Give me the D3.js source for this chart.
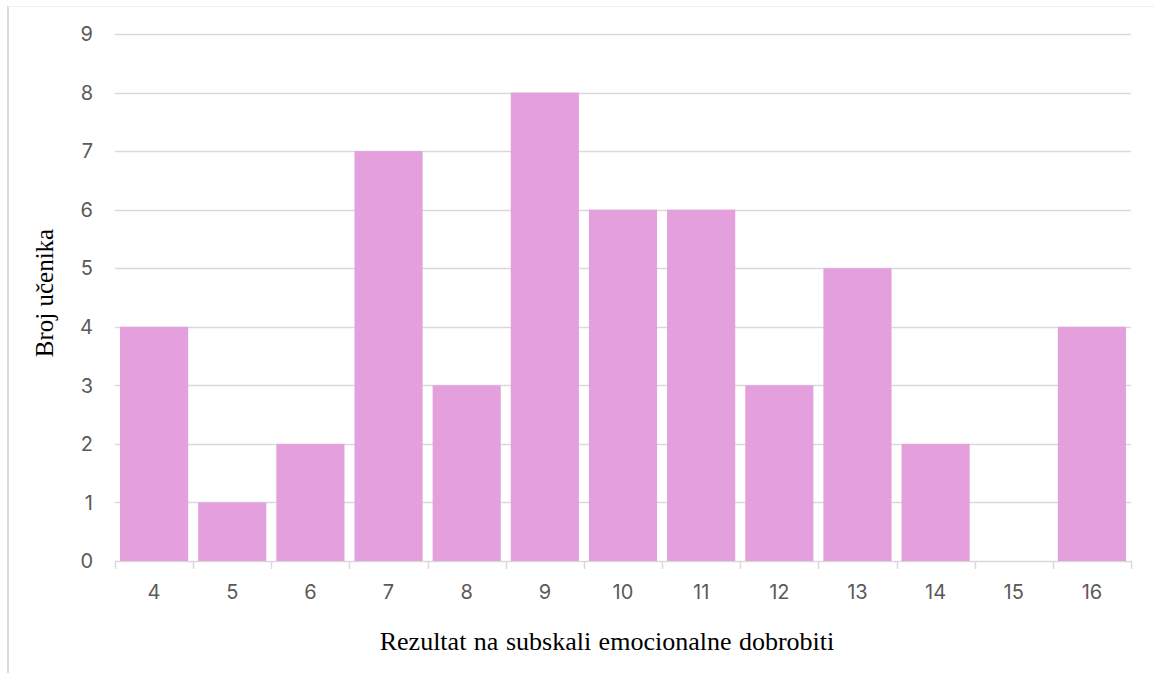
<!DOCTYPE html>
<html><head><meta charset="utf-8">
<script src="https://cdn.jsdelivr.net/npm/d3@7"></script>
<style>body{margin:0;background:#fff}svg{display:block}</style>
</head><body>
<svg id="c" width="1154" height="673"></svg>
<script>
const categories = ["4","5","6","7","8","9","10","11","12","13","14","15","16"];
const values = [4,1,2,7,3,8,6,6,3,5,2,0,4];
const yTicks = [0,1,2,3,4,5,6,7,8,9];
const xTitle = "Rezultat na subskali emocionalne dobrobiti";
const yTitle = "Broj učenika";

const svg = d3.select("#c");
const L = 115, R = 1131, T = 34, B = 561;
const tickFont = "Inter, Liberation Sans, Arial, sans-serif";
const titleFont = "Liberation Serif, Times New Roman, serif";

// frame lines
svg.append("line").attr("x1",8).attr("x2",8).attr("y1",6).attr("y2",673).attr("stroke","#dcdcdc").attr("stroke-width",2);
svg.append("line").attr("x1",8).attr("x2",1154).attr("y1",6.5).attr("y2",6.5).attr("stroke","#f0f0f0").attr("stroke-width",1);

const x = d3.scaleBand().domain(categories).range([L,R]).paddingInner(0.128).paddingOuter(0.064);
const y = d3.scaleLinear().domain([0,9]).range([B,T]);

// gridlines
svg.append("g").selectAll("line").data(yTicks).join("line")
  .attr("x1",L).attr("x2",R)
  .attr("y1",d=>Math.round(y(d))+0.5).attr("y2",d=>Math.round(y(d))+0.5)
  .attr("stroke","#d9d9d9").attr("stroke-width",1.5);

// y labels
svg.append("g").selectAll("text").data(yTicks).join("text")
  .attr("x",93).attr("y",d=>y(d)).attr("dy","0.36em")
  .attr("text-anchor","end").attr("font-family",tickFont)
  .attr("font-size",20).attr("fill","#5a5a5a").text(d=>d);

// bars
svg.append("g").selectAll("rect").data(values).join("rect")
  .attr("x",(d,i)=>x(categories[i])).attr("width",x.bandwidth())
  .attr("y",d=>y(d)).attr("height",d=>B-y(d))
  .attr("fill","#e4a0dd");

// x ticks at band boundaries
const step = x.step();
const bounds = d3.range(categories.length+1).map(i=>L+i*step);
svg.append("g").selectAll("line").data(bounds).join("line")
  .attr("x1",d=>Math.round(d)+0.5).attr("x2",d=>Math.round(d)+0.5)
  .attr("y1",B).attr("y2",B+8).attr("stroke","#d9d9d9").attr("stroke-width",1.5);

// x labels
svg.append("g").selectAll("text").data(categories).join("text")
  .attr("x",d=>x(d)+x.bandwidth()/2).attr("y",592).attr("dy","0.36em")
  .attr("text-anchor","middle").attr("font-family",tickFont)
  .attr("font-size",20).attr("fill","#5a5a5a").text(d=>d);

// titles
svg.append("text").attr("x",607).attr("y",641).attr("dy","0.35em").attr("text-anchor","middle")
  .attr("font-family",titleFont).attr("font-size",26).attr("word-spacing",1).attr("fill","#000").text(xTitle);
svg.append("text").attr("transform","translate(44,293) rotate(-90)").attr("dy","0.35em").attr("text-anchor","middle")
  .attr("font-family",titleFont).attr("font-size",25).attr("fill","#000").text(yTitle);
</script>
</body></html>
